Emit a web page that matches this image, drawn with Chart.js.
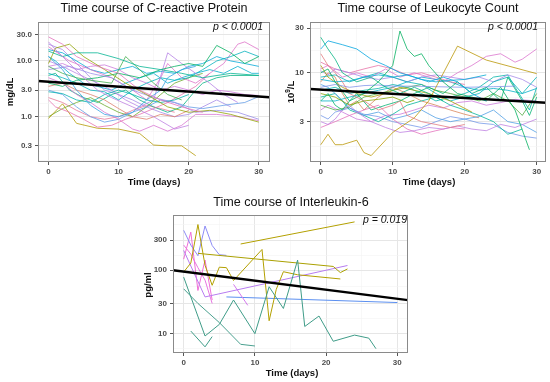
<!DOCTYPE html>
<html>
<head>
<meta charset="utf-8">
<script src="https://cdn.jsdelivr.net/npm/chart.js@4"></script>
<style>
  body { margin: 0; background: #fff; width: 550px; height: 382px; position: relative; overflow: hidden; }
  canvas { position: absolute; }
</style>
</head>
<body>
<canvas id="crpChart" width="275" height="190" style="left:0;top:0"></canvas>
<canvas id="wbcChart" width="275" height="190" style="left:275px;top:0"></canvas>
<canvas id="il6Chart" width="290" height="192" style="left:130px;top:190px"></canvas>
<script>
// x axis (days)
const dayTicks = [0, 10, 20, 30];
const fitDays = [-1.5, 31.5];

// C-reactive protein, mg/dL, one [day, value] list per patient
const crpSeries = [
  [[0,27],[2,20],[4,12],[7,8],[10,6],[13,3],[16,2],[19,1.5],[22,1.2]],
  [[0,22],[1,16],[3,9],[5,5],[7,3],[9,2.2],[12,1.5],[15,1],[18,0.6],[20,0.7]],
  [[0,15],[2,12],[4,14],[7,14],[10,11],[13,8],[16,7],[19,6],[22,5],[26,6],[30,5.5]],
  [[0,9],[1,17],[3,20],[5,12],[8,7],[11,4],[14,2.5],[17,1.5],[20,1.2],[23,1.3],[26,1.1],[30,0.8]],
  [[0,12],[2,7],[4,3],[6,1.6],[8,1.1],[10,1.0],[12,1.2],[14,2],[16,3],[17,5],[19,7],[21,8]],
  [[0,8],[2,6],[4,5],[6,4.5],[9,4],[11,12],[13,7],[15,4],[17,2.5],[19,2]],
  [[0,2.8],[2,2.6],[4,2.0],[6,1.8],[8,2.5],[10,3],[12,2.5],[14,2],[16,1.8],[18,2],[20,2.5]],
  [[0,2],[1,1.5],[3,1.2],[5,0.9],[7,0.65],[9,0.7],[11,0.9],[13,1.1],[15,1.4],[17,1.8],[19,2.5],[21,3.5],[23,6]],
  [[0,0.93],[2,1.7],[4,0.76],[7,0.62],[10,0.6],[13,0.5],[15,0.31],[17,0.3],[19,0.3],[21,0.2]],
  [[0,5],[2,4],[4,2.5],[6,1.8],[8,1.2],[10,0.9],[12,0.6],[13,0.55],[15,0.7],[17,0.55],[19,0.7],[21,1.1],[24,1.1],[27,1.0],[30,0.85]],
  [[0,7],[3,8],[6,6],[9,5],[12,3],[15,2.2],[18,1.8],[21,1.2],[24,1.3],[27,1.2],[30,0.9]],
  [[0,4],[2,3.5],[4,4.5],[7,5],[10,6],[13,5],[16,7],[18,8],[20,9],[22,8],[24,19],[26,14],[28,9],[30,12]],
  [[0,10],[2,8],[4,6],[7,4],[9,3],[11,2],[13,1.5],[15,2],[17,14],[19,9],[21,6],[23,4],[25,2.5],[27,1.8]],
  [[0,6],[2,5],[4,4],[6,3],[8,2.8],[10,2],[12,3],[14,4],[16,5],[18,4.5],[20,5],[22,7],[24,10],[26,12],[28,15],[30,12]],
  [[0,3],[2,2.5],[4,1.5],[6,1.0],[8,0.8],[10,0.9],[12,1.2],[14,1.5],[16,2.0],[18,1.8],[20,1.5],[22,1.4],[25,1.6],[28,1.8],[30,2.3]],
  [[0,18],[3,10],[6,7],[9,5],[12,3],[14,2],[16,5],[17,9],[19,5],[21,4],[23,6],[25,9],[27,20],[28,22],[30,16]],
  [[0,1.0],[2,1.4],[4,1.8],[6,2.2],[8,1.6],[10,1.2],[12,1.0],[14,1.5],[16,2.5],[18,4],[20,5],[22,6]],
  [[0,3.5],[2,4],[4,3],[6,2.5],[8,2],[10,1.4],[12,1.0],[14,0.9],[16,1.1],[18,1.0],[20,1.3]],
  [[0,16],[2,14],[4,10],[6,7],[8,6],[10,7],[12,8],[14,6],[16,6.5],[18,6],[20,8],[22,9],[24,12],[26,10],[28,9],[30,8]],
  [[0,8],[2,9],[4,7],[6,8],[8,8.5],[10,7],[12,5],[14,4],[16,3],[18,3.5],[20,3],[22,2.5],[24,3],[26,2.8],[28,2.5],[30,2.4]],
  [[0,5.5],[1,6],[3,3],[5,2.2],[7,1.8],[9,2.5],[11,3],[13,2],[15,1.5],[17,1.2],[19,1.5],[21,3],[22,4],[24,5],[26,5.5],[30,5.5]],
  [[0,12],[1,10],[3,6],[5,4],[7,3.5],[9,3],[11,4],[13,5],[15,6],[17,4],[19,5],[21,6],[23,7],[25,6],[27,8],[29,6],[30,6]],
  [[0,2.2],[2,1.8],[4,1.3],[6,1.0],[8,0.9],[10,1.0],[12,1.3],[14,1.6],[16,1.4],[18,1.2]],
  [[0,20],[2,16],[4,9],[6,5],[8,3],[10,2.5],[12,2],[14,1.5],[16,1.2],[18,1.0],[20,1.1],[22,1.5],[24,2],[26,1.5]]
];
const crpFit = [4.37, 2.23];
const crpTicks = [0.3, 1, 3, 10, 30];

// Leukocyte count, 10^9/L
const wbcSeries = [
  [[0,24],[1,18],[2,14],[3,10],[5,8],[7,9],[9,7],[11,6],[13,7],[15,6],[17,5]],
  [[0,18],[1,22],[3,20],[5,18],[7,14],[9,12],[11,10],[13,9],[15,8],[17,9],[19,8],[21,6],[23,5]],
  [[0,16],[1,12],[2,10],[3,8],[4,6],[6,5],[8,4],[10,4.5],[11,5],[12,3.5],[14,3],[16,2.8],[18,2.6],[20,2.8]],
  [[0,10],[1,11],[2,8],[4,5],[6,6],[8,8],[10,12],[11,28],[12,18],[13,15],[14,16],[15,12],[17,8],[19,6],[21,5.5],[23,5],[25,7],[27,4],[29,1.5]],
  [[0,1.7],[1,2.2],[2,1.7],[3,1.7],[5,1.9],[6,1.4],[7,1.3],[10,2.3],[13,3.3],[15,5],[19,19.3],[23,13.7],[30,9.8]],
  [[0,8.5],[2,8],[4,8.2],[6,9],[8,9.5],[10,9],[12,9.5],[14,8.5],[16,8],[18,8.3],[20,8.5],[23,9.5]],
  [[0,7],[2,7.5],[4,7],[6,7.3],[8,7.4],[10,7.2],[13,7.2],[16,7.1],[20,7.0],[24,7.1],[27,7.2]],
  [[0,5],[1,6],[2,4.5],[3,4],[4,5],[5,6],[7,4],[9,4.5],[11,5],[13,6],[15,7],[17,6],[19,8],[21,6],[23,7],[25,5],[26,9],[28,5],[29,3.5],[30,5.5]],
  [[0,3],[1,2.8],[2,3.2],[3,4],[4,4.5],[5,3.8],[7,3],[9,2.6],[11,2.3],[13,2.4],[15,2.6],[17,2.5],[19,2.7],[21,2.5],[23,2.4],[25,2.8],[27,2.6],[30,3.2]],
  [[0,2.6],[2,3],[4,3.5],[6,4],[8,4.5],[10,3.2],[12,2.5],[14,2.2],[16,2.4],[18,2.6],[20,2.5]],
  [[0,12],[1,9],[3,7],[5,6],[7,5.5],[9,6],[11,7],[13,6.5],[15,6],[18,5],[21,3.8]],
  [[0,6],[2,5.5],[4,4.5],[6,5],[8,5.2],[10,5.5],[12,4.8],[13,5.1]],
  [[0,11],[1,12],[3,9],[5,10],[7,9],[9,11],[11,9],[13,10],[15,9],[17,8],[19,10],[21,12],[23,15],[25,16],[27,13],[28,14],[30,18]],
  [[0,9],[2,9.5],[4,8],[6,9],[8,10],[10,9],[12,8],[14,7.5],[16,6],[18,5],[20,5.5],[22,6],[24,8],[26,9],[28,6],[30,9]],
  [[0,7.5],[1,7],[2,6],[4,4.2],[6,3.5],[8,3.8],[10,3.2],[12,3.5],[14,4],[16,3.3],[18,3],[20,3.2],[22,3.4],[24,4],[26,3],[28,2.8],[30,2.3]],
  [[0,4.5],[2,4],[4,4.3],[6,5.5],[8,6],[10,6.5],[12,7],[14,7.5],[16,6.5],[18,6],[20,5.5],[22,5],[24,6],[26,5],[28,3.5],[30,6]],
  [[0,5.5],[2,6],[3,5],[4,4],[6,3.5],[8,3],[10,3.6],[12,4.5],[14,5],[16,5.5],[18,4.5],[20,4],[22,3.5],[24,3],[26,2.2],[28,2.5]],
  [[0,10.5],[1,9.5],[2,11],[4,10],[6,9],[8,8.5],[10,9],[12,8],[14,9],[16,9.5],[18,9],[20,8.5],[22,9],[24,8],[26,9.5],[28,8.5],[30,7]],
  [[0,8],[1,10],[2,9],[3,6],[4,4.5],[5,5],[6,4],[8,5.5],[10,7],[12,6],[14,5],[16,4.5],[18,4],[20,3.6],[22,3.3]],
  [[0,6.5],[2,7],[4,6],[6,6.5],[8,6.8],[10,7.5],[12,7],[14,6],[16,5],[18,5.5],[20,6],[22,7],[24,9],[26,9.5],[27,7],[29,4],[30,7]],
  [[0,3.5],[1,3.2],[2,3.8],[4,4.2],[6,3.6],[8,3.4],[10,3],[12,2.8],[14,2.6],[16,3],[18,3.4],[20,3.2],[22,2.9],[24,2.8],[26,2.3],[28,2.1],[30,2.0]],
  [[0,13],[2,11],[4,10],[6,11],[8,12],[10,11],[12,9.5],[14,10],[16,9],[18,8],[20,7.5]],
  [[0,4],[1,4.5],[3,3.8],[5,3.2],[7,3],[9,3.5],[11,3.6],[13,4],[15,4.5],[17,4.2],[19,4.8],[21,5],[23,4.5],[25,4.8],[27,5.2],[30,5]],
  [[0,5],[2,5],[4,5.5],[6,6],[8,6.5],[10,7],[12,8],[14,9],[16,8.5],[18,8],[20,7],[22,6.5],[24,6.8],[26,6.5],[28,6],[30,6.8]]
];
const wbcFit = [6.7, 4.77];
const wbcTicks = [3, 10, 30];

// Interleukin-6, pg/ml
const il6Series = [
  [[0,78],[3,9.2],[5,14],[7,34],[10,10],[12,55],[14,25],[16,145],[17,13],[19,19],[21,7.6],[24,9.5],[26,8.5],[27,5.8]],
  [[1,11],[3,6.2],[4,9]],
  [[0,51],[2,30],[5,15],[8,6.8],[10,6.4]],
  [[8,260],[24,580]],
  [[0,94],[1,130],[2,527],[3,120],[4,58],[5,112],[6,110],[7,69],[11,213],[12,16],[13,50],[14,95],[16,85],[22,73]],
  [[2,185],[21,115],[22,92],[23,105]],
  [[0,427],[1,250],[2,170],[3,500],[4,246],[5,176],[6,172]],
  [[0,206],[3,38],[23,119]],
  [[0,150],[1,400],[2,48],[3,145],[4,34]],
  [[0,250],[1,180],[2,110],[3,70],[4,30]],
  [[7,60],[9,28]],
  [[6,38],[30,31]]
];
const il6Fit = [100, 33.8];
const il6Ticks = [10, 30, 100, 300];

// line hues (ggplot-like hcl palette)
const crpHues = [330,290,170,95,240,130,190,340,70,310,270,140,285,200,250,320,115,20,225,300,160,215,355,275];
const wbcHues = [160,235,10,140,65,220,260,150,290,330,80,100,315,195,245,125,175,275,30,185,255,345,300,210];
const il6Colors = ['#3f9c88','#3f9c88','#4aa08f','#b3a000','#b3a000','#aaa000','#8d8cf5','#b77cf0','#ef6fd6','#e775e0','#d478ee','#5b8ff0'];

const FONT = '"Liberation Sans", Arial, sans-serif';

function hcl(h, c, l) {
  const hr = h * Math.PI / 180;
  const U = c * Math.cos(hr), V = c * Math.sin(hr);
  const Xn = 95.047, Yn = 100, Zn = 108.883;
  const den = Xn + 15 * Yn + 3 * Zn;
  const un = 4 * Xn / den, vn = 9 * Yn / den;
  const Y = l > 8 ? Yn * Math.pow((l + 16) / 116, 3) : Yn * l / 903.3;
  const u = U / (13 * l) + un, v = V / (13 * l) + vn;
  const X = Y * 9 * u / (4 * v);
  const Z = Y * (12 - 3 * u - 20 * v) / (4 * v);
  const lin = [
    3.2404542 * X - 1.5371385 * Y - 0.4985314 * Z,
    -0.9692660 * X + 1.8760108 * Y + 0.0415560 * Z,
    0.0556434 * X - 0.2040259 * Y + 1.0572252 * Z
  ].map(t => t / 100);
  return lin.map(t => {
    t = t <= 0.0031308 ? 12.92 * t : 1.055 * Math.pow(t, 1 / 2.4) - 0.055;
    return Math.round(Math.max(0, Math.min(1, t)) * 255);
  });
}
function hueColor(h) {
  const [r, g, b] = hcl(h, 75, 63);
  return `rgba(${r},${g},${b},0.78)`;
}

// minor grid lines halfway between breaks (log space)
function minorBreaks(major, min, max) {
  const lg = major.map(Math.log10);
  const out = [];
  for (let i = 0; i < lg.length - 1; i++) out.push((lg[i] + lg[i + 1]) / 2);
  out.push(lg[0] - (lg[1] - lg[0]) / 2);
  const n = lg.length;
  out.push(lg[n - 1] + (lg[n - 1] - lg[n - 2]) / 2);
  return out.map(v => Math.pow(10, v)).filter(v => v > min && v < max);
}

function makeDecor(cfg) {
  return {
    id: 'decor',
    afterDraw(chart) {
      const c = chart.ctx, a = chart.chartArea;
      c.save();
      c.strokeStyle = '#8a8a8a';
      c.lineWidth = 1;
      c.strokeRect(Math.round(a.left) + 0.5, Math.round(a.top) + 0.5, Math.round(a.width) - 1, Math.round(a.height) - 1);
      c.fillStyle = '#111';
      c.textBaseline = 'middle';
      c.textAlign = 'center';
      c.font = '12.6px ' + FONT;
      c.fillText(cfg.title, cfg.titlePos[0], cfg.titlePos[1]);
      c.font = 'bold 9.5px ' + FONT;
      c.fillText('Time (days)', cfg.xTitlePos[0], cfg.xTitlePos[1]);
      c.textAlign = 'right';
      c.font = 'italic 10.5px ' + FONT;
      c.fillText(cfg.pText, cfg.pPos[0], cfg.pPos[1]);
      // rotated y title, parts = [text, size, raise]
      c.translate(cfg.yTitlePos[0], cfg.yTitlePos[1]);
      c.rotate(-Math.PI / 2);
      c.textAlign = 'left';
      let total = 0;
      cfg.yTitle.forEach(p => { c.font = 'bold ' + p[1] + 'px ' + FONT; total += c.measureText(p[0]).width; });
      let x = -total / 2;
      cfg.yTitle.forEach(p => {
        c.font = 'bold ' + p[1] + 'px ' + FONT;
        c.fillText(p[0], x, -p[2]);
        x += c.measureText(p[0]).width;
      });
      c.restore();
    }
  };
}

function panel(id, cfg) {
  const canvas = document.getElementById(id);
  const W = canvas.width, H = canvas.height;
  const yMinor = minorBreaks(cfg.yTicks, cfg.yMin, cfg.yMax);
  const yAll = cfg.yTicks.concat(yMinor).sort((p, q) => p - q);
  const xAll = [0, 5, 10, 15, 20, 25, 30];
  const gridColor = major => ctx => major(ctx.tick.value) ? '#e6e6e6' : '#f3f3f3';
  const tickColor = major => ctx => major(ctx.tick.value) ? '#555' : 'rgba(0,0,0,0)';
  const isX = v => dayTicks.includes(v);
  const isY = v => cfg.yTicks.includes(v);

  const datasets = [{
    data: fitDays.map((d, i) => ({ x: d, y: cfg.fit[i] })),
    borderColor: '#000', borderWidth: 2.4, order: 0
  }];
  cfg.series.forEach((s, i) => datasets.push({
    data: s.map(p => ({ x: p[0], y: p[1] })),
    borderColor: cfg.colors[i], borderWidth: 1, order: 1
  }));

  new Chart(canvas, {
    type: 'line',
    data: { datasets },
    options: {
      responsive: false,
      animation: false,
      layout: { padding: { left: 0, top: cfg.area.top, right: W - cfg.area.right, bottom: 0 } },
      elements: { point: { radius: 0 }, line: { tension: 0, fill: false } },
      plugins: { legend: { display: false }, tooltip: { enabled: false }, title: { display: false } },
      scales: {
        x: {
          type: 'linear', min: -1.5, max: cfg.xMax, bounds: 'data',
          afterBuildTicks: ax => { ax.ticks = xAll.map(v => ({ value: v })); },
          afterFit: ax => { ax.height = H - cfg.area.bottom; },
          ticks: {
            autoSkip: false, maxRotation: 0, padding: 1.5, color: '#4d4d4d',
            font: { family: FONT, size: 8, weight: 'bold' },
            callback: v => isX(v) ? String(v) : ''
          },
          grid: { color: gridColor(isX), lineWidth: ctx => isX(ctx.tick.value) ? 1 : 0.6, tickLength: 3, tickColor: tickColor(isX) },
          border: { display: false }
        },
        y: {
          type: 'logarithmic', min: cfg.yMin, max: cfg.yMax, bounds: 'data',
          afterBuildTicks: ax => { ax.ticks = yAll.map(v => ({ value: v })); },
          afterFit: ax => { ax.width = cfg.area.left; },
          ticks: {
            autoSkip: false, padding: 3, color: '#4d4d4d',
            font: { family: FONT, size: 8, weight: 'bold' },
            callback: v => isY(v) ? cfg.yFmt(v) : ''
          },
          grid: { color: gridColor(isY), lineWidth: ctx => isY(ctx.tick.value) ? 1 : 0.6, tickLength: 3, tickColor: tickColor(isY) },
          border: { display: false }
        }
      }
    },
    plugins: [makeDecor(cfg)]
  });
}

panel('crpChart', {
  series: crpSeries, fit: crpFit, colors: crpHues.map(hueColor),
  yTicks: crpTicks, yMin: 0.154, yMax: 50, yFmt: v => v.toFixed(1), xMax: 31.6,
  area: { left: 38, top: 22, right: 270, bottom: 162 },
  title: 'Time course of C-reactive Protein', titlePos: [154, 9],
  xTitlePos: [154, 182], yTitle: [['mg/dL', 9.5, 0]], yTitlePos: [10, 92],
  pText: 'p < 0.0001', pPos: [263, 27]
});

panel('wbcChart', {
  series: wbcSeries, fit: wbcFit, colors: wbcHues.map(hueColor),
  yTicks: wbcTicks, yMin: 1.11, yMax: 35, yFmt: v => String(v), xMax: 31.3,
  area: { left: 35, top: 22, right: 271, bottom: 162 },
  title: 'Time course of Leukocyte Count', titlePos: [153, 9],
  xTitlePos: [154, 182], yTitle: [['10', 9.5, 0], ['9', 6.5, 3.5], ['/L', 9.5, 0]], yTitlePos: [16.5, 92],
  pText: 'p < 0.0001', pPos: [263, 27]
});

panel('il6Chart', {
  series: il6Series, fit: il6Fit, colors: il6Colors,
  yTicks: il6Ticks, yMin: 4.96, yMax: 745, yFmt: v => String(v), xMax: 31.5,
  area: { left: 43, top: 25, right: 278, bottom: 163 },
  title: 'Time course of Interleukin-6', titlePos: [161, 13],
  xTitlePos: [162, 183], yTitle: [['pg/ml', 9.5, 0]], yTitlePos: [18, 95],
  pText: 'p = 0.019', pPos: [277, 30]
});
</script>
</body>
</html>
